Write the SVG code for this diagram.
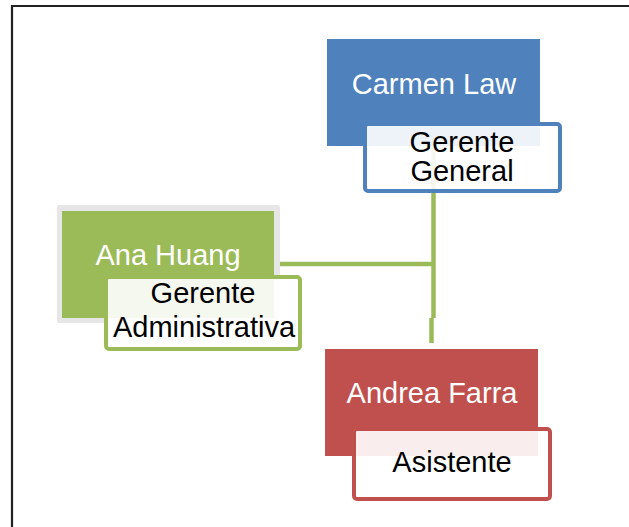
<svg xmlns="http://www.w3.org/2000/svg" width="629" height="527" viewBox="0 0 629 527">
<style>
.t{font-family:"Liberation Sans",Arial,sans-serif;font-size:29px;text-anchor:middle}
.w{fill:#fff}
.k{fill:#000}
.sub{fill:#fff;fill-opacity:0.9;stroke-width:4}
.conn{fill:none;stroke:#9BBB59;stroke-width:4.5}
</style>
<rect width="629" height="527" fill="#fff"/>
<path d="M12,527 V6 H629" fill="none" stroke="#222" stroke-width="2.2"/>
<g id="connectors">
<path class="conn" d="M433.5,146 V318"/>
<path class="conn" d="M431.5,318 V343"/>
<path class="conn" d="M280,264 H433.5"/>
</g>
<g id="carmen">
<rect x="327" y="39" width="213" height="107" fill="#4F81BD"/>
<text class="t w" x="434" y="94">Carmen Law</text>
<rect class="sub" x="365" y="124" width="195" height="67" rx="3" stroke="#4F81BD"/>
<text class="t k" x="462" y="152">Gerente</text>
<text class="t k" x="462" y="181">General</text>
</g>
<g id="ana">
<rect x="57" y="205" width="223" height="118" rx="3" fill="#E6E6E6"/>
<rect x="62" y="211" width="212" height="107" fill="#9BBB59"/>
<text class="t w" x="168" y="265">Ana Huang</text>
<rect class="sub" x="106" y="277" width="194" height="72" rx="3" stroke="#9BBB59"/>
<text class="t k" x="203" y="303">Gerente</text>
<text class="t k" x="204" y="337">Administrativa</text>
</g>
<g id="andrea">
<rect x="325" y="349" width="213" height="107" fill="#C0504D"/>
<text class="t w" x="432" y="403">Andrea Farra</text>
<rect class="sub" x="354" y="429" width="196" height="70" rx="3" stroke="#C0504D"/>
<text class="t k" x="452" y="472">Asistente</text>
</g>
</svg>
